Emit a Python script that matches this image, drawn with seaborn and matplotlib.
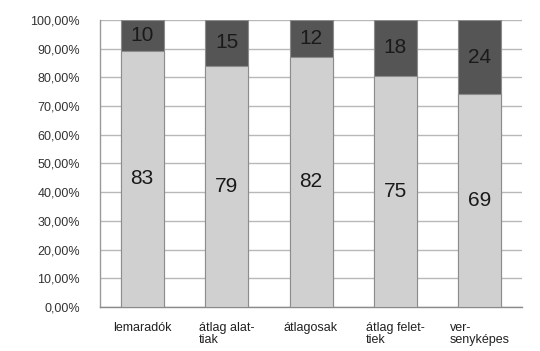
import matplotlib
matplotlib.use("Agg")
import matplotlib.pyplot as plt
from matplotlib.ticker import FuncFormatter, FixedLocator
import seaborn as sns
import pandas as pd

# Group names and student counts per group
categories = ["lemaradók", "átlag alat-\ntiak", "átlagosak", "átlag felet-\ntiek", "ver-\nsenyképes"]
lower_counts = [83, 79, 82, 75, 69]
upper_counts = [10, 15, 12, 18, 24]

sns.set_theme(style="white")
plt.rcParams["font.family"] = ["Liberation Sans", "DejaVu Sans"]

totals = [a + b for a, b in zip(lower_counts, upper_counts)]
df = pd.DataFrame({
    "group": categories,
    "lower": [a / t for a, t in zip(lower_counts, totals)],
    "full": [1.0 for _ in totals],
})

fig = plt.figure(figsize=(5.4, 3.51), dpi=100)
ax = fig.add_axes([0.185, 0.1254, 0.782, 0.8176])

light = "#d0d0d0"
dark = "#555555"
edge = "#8c8c8c"
grid = "#b8b8b8"

sns.barplot(data=df, x="group", y="full", color=dark, width=0.51,
            edgecolor=edge, linewidth=0.8, saturation=1, ax=ax, zorder=3)
sns.barplot(data=df, x="group", y="lower", color=light, width=0.51,
            edgecolor=edge, linewidth=0.8, saturation=1, ax=ax, zorder=3)

ax.set_xlim(-0.5, 4.5)
ax.set_ylim(0, 1.0)
ax.set_xlabel("")
ax.set_ylabel("")

# Count labels centred in each segment
for i, (lo, hi, t) in enumerate(zip(lower_counts, upper_counts, totals)):
    frac = lo / t
    ax.text(i, frac / 2, str(lo), ha="center", va="center", fontsize=15, color="#1a1a1a", zorder=4)
    ax.text(i, frac + (1 - frac) / 2, str(hi), ha="center", va="center", fontsize=15, color="#1a1a1a", zorder=4)

# Y axis: percentages with comma decimal separator
ax.yaxis.set_major_locator(FixedLocator([i / 10 for i in range(11)]))
ax.yaxis.set_major_formatter(FuncFormatter(lambda v, _: f"{v * 100:.2f}%".replace(".", ",")))
ax.yaxis.grid(True, color=grid, linewidth=1.0, zorder=0)
ax.tick_params(axis="y", length=7.2, width=1.0, color=grid, pad=7, labelsize=9, labelcolor="#333333")

# X axis: category separators as ticks
ax.set_xticks(range(len(categories)))
ax.set_xticklabels(categories, fontsize=9, color="#222222", ha="center",
                   multialignment="left", linespacing=0.95)
ax.set_xticks([-0.5, 0.5, 1.5, 2.5, 3.5], minor=True)
ax.tick_params(axis="x", which="major", length=0, pad=11)
ax.tick_params(axis="x", which="minor", length=7.2, width=1.0, color="#999999")

for s in ["top", "right"]:
    ax.spines[s].set_visible(False)
ax.spines["left"].set_color("#999999")
ax.spines["bottom"].set_color("#8a8a8a")
ax.spines["left"].set_linewidth(1.0)
ax.spines["bottom"].set_linewidth(1.0)

fig.savefig("out.png", dpi=100)
